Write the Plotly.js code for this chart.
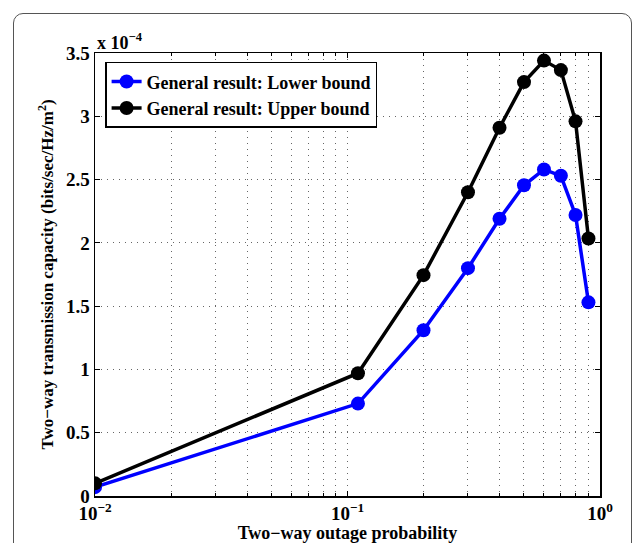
<!DOCTYPE html>
<html>
<head>
<meta charset="utf-8">
<script src="https://cdn.plot.ly/plotly-3.0.1.min.js"></script>
<style>
html,body{margin:0;padding:0;background:#fff;width:634px;height:543px;overflow:hidden;}
#frame{position:absolute;left:13px;top:13px;width:619px;height:600px;border:1.5px solid #555;border-radius:10px;box-sizing:border-box;}
#chart{position:absolute;left:0;top:0;width:634px;height:543px;}
</style>
</head>
<body>
<div id="frame"></div>
<div id="chart"></div>
<script>
// Two-way outage probability
const outageProb = [0.01, 0.11, 0.2, 0.3, 0.4, 0.5, 0.6, 0.7, 0.8, 0.9];
// Transmission capacity, in units of 1e-4 bits/sec/Hz/m^2
const lowerBound = [0.07, 0.73, 1.31, 1.80, 2.19, 2.455, 2.58, 2.53, 2.22, 1.53];
const upperBound = [0.10, 0.97, 1.745, 2.40, 2.91, 3.27, 3.44, 3.365, 2.96, 2.035];
const seriesNames = ['General result: Lower bound', 'General result: Upper bound'];
const xTickVals = [0.01, 0.1, 1];
const xTickText = ['10<sup>−2</sup>', '10<sup>−1</sup>', '10<sup>0</sup>'];
const xMinorVals = [0.02, 0.03, 0.04, 0.05, 0.06, 0.07, 0.08, 0.09, 0.2, 0.3, 0.4, 0.5, 0.6, 0.7, 0.8, 0.9];
const yTickVals = [0, 0.5, 1, 1.5, 2, 2.5, 3, 3.5];
const yTickText = ['0', '0.5', '1', '1.5', '2', '2.5', '3', '3.5'];

const F = "'Liberation Serif', 'Times New Roman', serif";
const GRID = '#666';
const DASH = '1px,5px';

const traces = [
  {x: outageProb, y: lowerBound, name: seriesNames[0], type: 'scatter', mode: 'lines+markers',
   line: {color: '#0000ff', width: 3.5}, marker: {color: '#0000ff', size: 14}},
  {x: outageProb, y: upperBound, name: seriesNames[1], type: 'scatter', mode: 'lines+markers',
   line: {color: '#000000', width: 3.5}, marker: {color: '#000000', size: 14}}
];

const layout = {
  width: 634, height: 543,
  margin: {l: 95, r: 34, t: 53, b: 47},
  paper_bgcolor: 'rgba(0,0,0,0)', plot_bgcolor: '#fff',
  font: {family: F, size: 17, color: '#000', weight: 'bold'},
  showlegend: true,
  legend: {x: 0.02, y: 0.98, xanchor: 'left', yanchor: 'top', bgcolor: '#fff',
           bordercolor: '#000', borderwidth: 1.5, font: {family: F, size: 18, weight: 'bold'},
           tracegroupgap: 0},
  xaxis: {
    type: 'log', range: [-2, 0], tickvals: xTickVals, ticktext: xTickText,
    ticks: 'inside', ticklen: 5, tickcolor: '#000', showline: true, linecolor: '#000', linewidth: 1.5,
    mirror: 'ticks', zeroline: false,
    showgrid: true, gridcolor: GRID, griddash: DASH, gridwidth: 1,
    minor: {tickvals: xMinorVals, showgrid: true, gridcolor: GRID, griddash: DASH, ticks: 'inside', ticklen: 3, tickcolor: '#000'},
    tickfont: {family: F, size: 19, weight: 'bold'},
    title: {text: 'Two−way outage probability', font: {family: F, size: 18, weight: 'bold'}, standoff: 4}
  },
  yaxis: {
    range: [0, 3.5], tickvals: yTickVals, ticktext: yTickText,
    ticks: 'inside', ticklen: 5, tickcolor: '#000', showline: true, linecolor: '#000', linewidth: 1.5,
    mirror: 'ticks', zeroline: false,
    showgrid: true, gridcolor: GRID, griddash: DASH, gridwidth: 1,
    tickfont: {family: F, size: 19, weight: 'bold'},
    title: {text: 'Two−way transmission capacity (bits/sec/Hz/m<sup>2</sup>)', font: {family: F, size: 17, weight: 'bold'}, standoff: 8}
  },
  annotations: [{
    xref: 'paper', yref: 'paper', x: 0, y: 1, xanchor: 'left', yanchor: 'bottom',
    text: 'x 10<sup>−4</sup>', showarrow: false, font: {family: F, size: 18, weight: 'bold'}, yshift: -2
  }]
};

Plotly.newPlot('chart', traces, layout, {displayModeBar: false, staticPlot: true});
</script>
</body>
</html>
